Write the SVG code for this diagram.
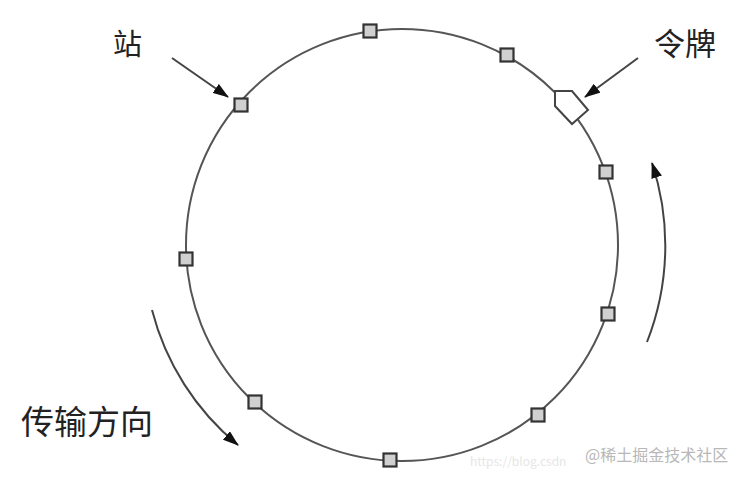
<svg xmlns="http://www.w3.org/2000/svg" width="737" height="479" viewBox="0 0 737 479">
<style>
.ring{fill:none;stroke:#555;stroke-width:2}
.st{fill:#d0d0d0;stroke:#333;stroke-width:2.2}
.arr{fill:none;stroke:#444;stroke-width:2}
.lbl{font-family:"Noto Sans CJK SC","Noto Sans CJK JP",sans-serif;fill:#222}
.wm{font-family:"Noto Sans CJK SC","Liberation Sans",sans-serif}
</style>
<defs>
<marker id="ah" viewBox="0 0 16 11" refX="15" refY="5.5" markerWidth="16" markerHeight="11" markerUnits="userSpaceOnUse" orient="auto">
<path d="M0,0 L16,5.5 L0,11 Z" fill="#111"/>
</marker>
</defs>
<rect width="737" height="479" fill="#fff"/>
<g id="ring">
<circle class="ring" cx="402" cy="245" r="216"/>
</g>
<g id="stations">
<rect class="st" x="363.5" y="24.5" width="13" height="13"/>
<rect class="st" x="500.5" y="48.5" width="13" height="13"/>
<rect class="st" x="234.5" y="98.5" width="13" height="13"/>
<rect class="st" x="599.5" y="165.5" width="13" height="13"/>
<rect class="st" x="179.5" y="252.5" width="13" height="13"/>
<rect class="st" x="601.5" y="307.5" width="13" height="13"/>
<rect class="st" x="531.5" y="408.5" width="13" height="13"/>
<rect class="st" x="248.5" y="395.5" width="13" height="13"/>
<rect class="st" x="383.5" y="453.5" width="13" height="13"/>
</g>
<g id="token">
<polygon points="555,91 572,91 588,110 572,124 555,106" fill="#fff" stroke="#444" stroke-width="2"/>
</g>
<g id="connectors">
<line class="arr" x1="172" y1="58" x2="228" y2="97" marker-end="url(#ah)"/>
<line class="arr" x1="638" y1="58" x2="585" y2="97" marker-end="url(#ah)"/>
<path class="arr" d="M152,310 A258,258 0 0 0 238,445" marker-end="url(#ah)"/>
<path class="arr" d="M647,342 A263,263 0 0 0 652,163" marker-end="url(#ah)"/>
</g>
<g id="labels">
<text class="lbl" x="113" y="55" font-size="29">站</text>
<text class="lbl" x="654" y="55" font-size="31">令牌</text>
<text class="lbl" x="21" y="434" font-size="33">传输方向</text>
</g>
<g id="watermark">
<text class="wm" x="470" y="466" font-size="12" fill="#e6e6e6">https://blog.csdn</text>
<text class="wm" x="585" y="461" font-size="16" fill="#b8b8b8">@稀土掘金技术社区</text>
</g>
</svg>
